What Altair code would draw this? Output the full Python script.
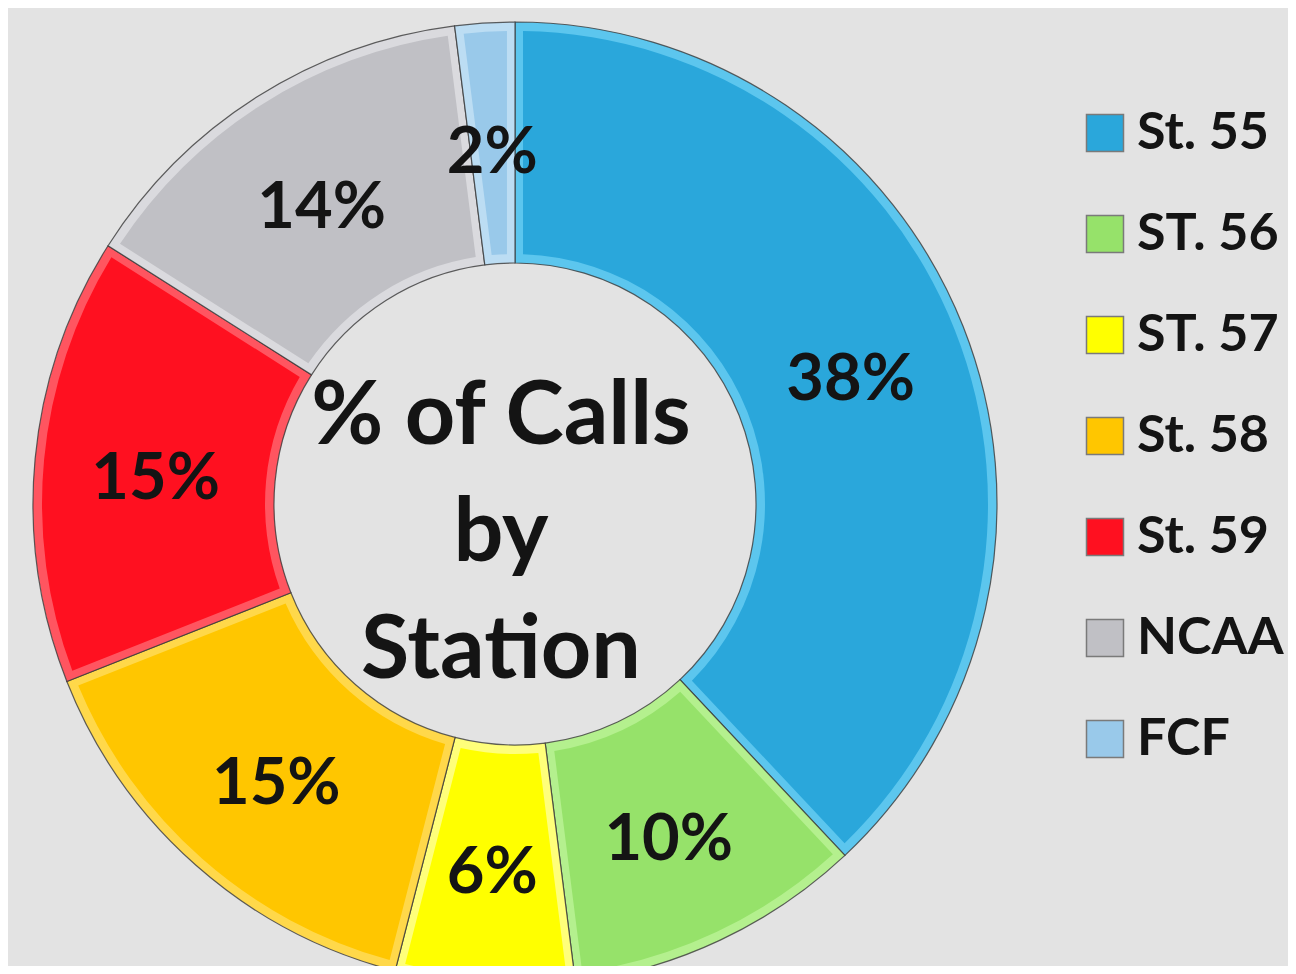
import altair as alt
import pandas as pd

categories = ["St. 55", "ST. 56", "ST. 57", "St. 58", "St. 59", "NCAA", "FCF"]
values = [38, 10, 6, 15, 15, 14, 2]
order_idx = [0, 1, 2, 3, 4, 5, 6]
title_lines = ["% of Calls", "by", "Station"]

main_colors = ["#2AA7DB", "#96E26A", "#FFFF00", "#FFC600", "#FF1020", "#C0C0C5", "#99C9EA"]
edge_colors = ["#5CC6EE", "#B4F08E", "#FFFF7A", "#FFD84A", "#FF5560", "#DADADE", "#BCDDF3"]

df = pd.DataFrame({"station": categories, "value": values, "idx": order_idx})

CX, CY = 507, 496
FONT = "Lato"

base = alt.Chart(df)

theta = alt.Theta("value:Q", stack=True)
order = alt.Order("idx:Q", sort="ascending")

edge = base.mark_arc(
    outerRadius=482, innerRadius=241, stroke="#3a3a3a", strokeWidth=1.2, strokeOpacity=0.8
).encode(
    theta=theta,
    order=order,
    color=alt.Color("station:N", scale=alt.Scale(domain=categories, range=edge_colors), legend=None),
    x=alt.value(CX), y=alt.value(CY),
)

face = base.mark_arc(
    outerRadius=473, innerRadius=250, padAngle=0.03
).encode(
    theta=theta,
    order=order,
    color=alt.Color(
        "station:N",
        scale=alt.Scale(domain=categories, range=main_colors),
        sort=categories,
        legend=alt.Legend(
            title=None,
            orient="none",
            legendX=1071,
            legendY=99,
            symbolType="square",
            symbolSize=1369,
            symbolStrokeColor="#7a7a7a",
            symbolStrokeWidth=1.5,
            labelFont=FONT,
            labelFontWeight="bold",
            labelFontSize=52,
            labelColor="#141414",
            labelOffset=6,
            labelLimit=400,
            rowPadding=49,
        ),
    ),
    x=alt.value(CX), y=alt.value(CY),
)

labels = base.transform_calculate(
    label="datum.value + '%'"
).mark_text(
    radius=361, font=FONT, fontWeight="bold", fontSize=65, color="#141414",
    align="center", baseline="middle", dy=9
).encode(
    theta=theta,
    order=order,
    text="label:N",
    x=alt.value(CX), y=alt.value(CY),
)

center = alt.Chart(pd.DataFrame({"t": [0]})).mark_text(
    font=FONT, fontWeight="bold", fontSize=88, color="#141414",
    align="center", baseline="alphabetic", lineHeight=117
).encode(
    text=alt.value(title_lines),
    x=alt.value(493), y=alt.value(436),
)

chart = alt.layer(edge, face, labels, center).resolve_scale(
    color="independent"
).properties(
    width=1280, height=958,
    autosize=alt.AutoSizeParams(type="none"),
    padding=0,
    background="#E3E3E3",
).configure_view(stroke=None)

chart.save("out.html", embed_options={"renderer": "svg", "actions": False})
